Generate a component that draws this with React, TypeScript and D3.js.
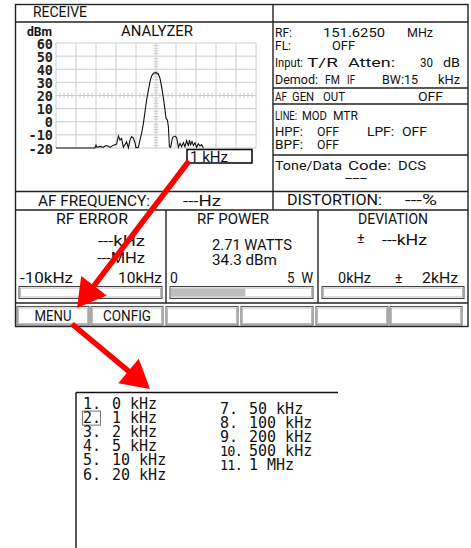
import * as d3 from "d3";
import type { ReactNode } from "react";

// spectrum trace (offset from centre in kHz, level in dBm)
const traceKHz = [-5, -3.05, -3.0, -2.95, -2.8, -2.65, -2.5, -2.4, -2.3, -2.15, -1.97, -1.88, -1.8, -1.72, -1.63, -1.47, -1.38, -1.3, -1.22, -1.13, -1.05, -1.0, -0.88, -0.8, -0.72, -0.63, -0.55, -0.47, -0.38, -0.3, -0.22, -0.13, 0, 0.12, 0.2, 0.28, 0.37, 0.45, 0.5, 0.57, 0.62, 0.67, 0.73, 0.83, 0.95, 1.03, 1.12, 1.2, 1.28, 1.37, 1.45, 1.53, 1.62, 1.67, 1.73, 1.8, 1.87, 1.95, 2.03, 2.12, 2.2, 2.28, 2.37];
const traceDbm = [-20, -20, -17.7, -19.5, -18.8, -19.5, -18.2, -18.5, -19.5, -18, -17, -10.9, -13.9, -12.8, -19.5, -15.4, -19.8, -14, -11.4, -12.5, -16, -19.8, -19.4, -13.9, -8.8, -1.2, 7.7, 16.6, 24.2, 30.5, 34.9, 36.9, 37.4, 36.4, 33.1, 26.7, 17.9, 9, 2.6, 1.3, -3.8, -19, -19.5, -11.9, -10.9, -12, -19.5, -16.4, -19, -16, -19, -14.4, -18.5, -14, -17.5, -15, -18, -16, -19.5, -16.8, -18.5, -17.5, -20];

const dbmTicks = [60, 50, 40, 30, 20, 10, 0, -10, -20];
const kHzGrid = [-5, -4, -3, -2, -1, 0, 1, 2, 3, 4, 5];

const spanOptions = ["0 kHz", "1 kHz", "2 kHz", "5 kHz", "10 kHz", "20 kHz", "50 kHz", "100 kHz", "200 kHz", "500 kHz", "1 MHz"];
const selectedSpan = 1;

const rfPowerWatts = 2.71;
const rfPowerDbm = 34.3;
const rfPowerMax = 5;
const softKeys = ["MENU", "CONFIG", "", "", "", ""];

const FONT = "Roboto, 'DejaVu Sans', sans-serif";
const MONO = "'DejaVu Sans Mono', monospace";

// text squeezed/stretched to the width it has on the instrument screen
function T({ x, y, w, size = 13, anchor, children }: { x: number; y: number; w?: number; size?: number; anchor?: "start" | "middle" | "end"; children: ReactNode }) {
  return (
    <text
      x={x}
      y={y}
      fontFamily={FONT}
      fontSize={size}
      fill="#111"
      textAnchor={anchor}
      textLength={w}
      lengthAdjust={w ? "spacingAndGlyphs" : undefined}
      style={{ whiteSpace: "pre" }}
    >
      {children}
    </text>
  );
}

function Arrow({ x1, y1, x2, y2 }: { x1: number; y1: number; x2: number; y2: number }) {
  const dx = x2 - x1, dy = y2 - y1;
  const len = Math.hypot(dx, dy);
  const ux = dx / len, uy = dy / len;
  const headLen = 28, half = 16;
  const bx = x2 - ux * headLen, by = y2 - uy * headLen;
  const pts = [
    [x2, y2],
    [bx - uy * half, by + ux * half],
    [bx + uy * half, by - ux * half],
  ];
  return (
    <g>
      <line x1={x1} y1={y1} x2={bx + ux * 2} y2={by + uy * 2} stroke="#ff0000" strokeWidth={5.5} />
      <polygon points={pts.map((p) => p.join(",")).join(" ")} fill="#ff0000" />
    </g>
  );
}

function Bar({ x, w, fill }: { x: number; w: number; fill?: number }) {
  return (
    <g>
      <rect x={x} y={286.5} width={w} height={12} fill="#fff" stroke="#444" strokeWidth={1} />
      <rect x={x + 1.5} y={288} width={w - 3} height={9} fill="none" stroke="#bbb" strokeWidth={1} />
      {fill != null && <rect x={x + 2} y={288.5} width={fill} height={8} fill="#bdbdbd" />}
    </g>
  );
}

export default function App() {
  const x = d3.scaleLinear().domain([-5, 5]).range([56, 256]);
  const y = d3.scaleLinear().domain([-20, 60]).range([148, 43]);
  const line = d3
    .line<number>()
    .x((_, i) => x(traceKHz[i]))
    .y((d) => y(d));

  const power = d3.scaleLinear().domain([0, rfPowerMax]).range([0, 139]);

  const minorKHz = d3.range(-5, 5.001, 0.2).filter((v) => Math.abs(v - Math.round(v)) > 0.01);
  const minorDb = d3.range(-20, 60.001, 2).filter((v) => v % 10 !== 0);

  const keyX = [17, 91, 166, 241, 316, 390];
  const keyW = [37, 48];

  return (
    <svg width={471} height={548} style={{ position: "absolute", left: 0, top: 0, background: "#fff" }}>
      {/* analyzer grid */}
      <g stroke="#cccccc" strokeWidth={1}>
        {kHzGrid.map((k) => (
          <line key={"v" + k} x1={x(k)} x2={x(k)} y1={y(60)} y2={y(-20)} />
        ))}
        {dbmTicks.map((d) => (
          <line key={"h" + d} x1={x(-5)} x2={x(5)} y1={y(d)} y2={y(d)} />
        ))}
        {minorKHz.map((k) => (
          <line key={"mk" + k} x1={x(k)} x2={x(k)} y1={y(20) - 2.5} y2={y(20) + 2.5} />
        ))}
        {minorDb.map((d) => (
          <line key={"md" + d} x1={x(0) - 2.5} x2={x(0) + 2.5} y1={y(d)} y2={y(d)} />
        ))}
      </g>
      <path d={line(traceDbm) ?? ""} fill="none" stroke="#111" strokeWidth={1.1} />

      {dbmTicks.map((d) => (
        <text key={d} x={53} y={y(d) + 5.5} textAnchor="end" fontFamily={MONO} fontSize={13.5} fontWeight="bold" fill="#222">
          {d}
        </text>
      ))}
      <text x={27} y={36} fontFamily={FONT} fontSize={13} fontWeight="bold" fill="#111" textLength={25} lengthAdjust="spacingAndGlyphs">dBm</text>
      <T x={121} y={36} w={72} size={15}>ANALYZER</T>

      {/* span readout box */}
      <rect x={187} y={149.5} width={65} height={13.5} fill="#fff" stroke="#111" strokeWidth={1.6} />
      <T x={190} y={162} w={38} size={15}>{spanOptions[selectedSpan]}</T>

      {/* frame lines */}
      <g stroke="#222" strokeWidth={1.4} fill="none">
        <rect x={15.5} y={4.5} width={452.5} height={322} />
        <line x1={15.5} x2={468} y1={22} y2={22} />
        <line x1={273} x2={273} y1={4.5} y2={210} />
        <line x1={273} x2={468} y1={88} y2={88} />
        <line x1={273} x2={468} y1={104} y2={104} />
        <line x1={273} x2={468} y1={155} y2={155} />
        <line x1={15.5} x2={468} y1={191.5} y2={191.5} />
        <line x1={15.5} x2={468} y1={210} y2={210} />
        <line x1={166} x2={166} y1={210} y2={303} />
        <line x1={318} x2={318} y1={210} y2={303} />
        <line x1={15.5} x2={468} y1={303} y2={303} />
      </g>

      <T x={33} y={17} w={54} size={14}>RECEIVE</T>

      {/* settings */}
      <T x={275} y={37} w={17}>RF:</T>
      <T x={323} y={37} w={62}>151.6250</T>
      <T x={407} y={37} w={26}>MHz</T>
      <T x={275} y={50} w={16}>FL:</T>
      <T x={332} y={50} w={23}>OFF</T>
      <T x={275} y={67} w={28}>Input:</T>
      <T x={307} y={67} w={31}>T/R</T>
      <T x={348} y={67} w={47}>Atten:</T>
      <T x={420} y={67} w={13}>30</T>
      <T x={443} y={67} w={17}>dB</T>
      <T x={275} y={84} w={43}>Demod:</T>
      <T x={325} y={84} w={15}>FM</T>
      <T x={347} y={84} w={8}>IF</T>
      <T x={382} y={84} w={36}>BW:15</T>
      <T x={438} y={84} w={22}>kHz</T>
      <T x={275} y={101} w={12}>AF</T>
      <T x={292} y={101} w={22}>GEN</T>
      <T x={323} y={101} w={22}>OUT</T>
      <T x={418} y={101} w={25}>OFF</T>
      <T x={275} y={120} w={22}>LINE:</T>
      <T x={302} y={120} w={25}>MOD</T>
      <T x={333} y={120} w={25}>MTR</T>
      <T x={275} y={136} w={28}>HPF:</T>
      <T x={317} y={136} w={22}>OFF</T>
      <T x={367} y={136} w={27}>LPF:</T>
      <T x={402} y={136} w={25}>OFF</T>
      <T x={275} y={149} w={28}>BPF:</T>
      <T x={317} y={149} w={22}>OFF</T>
      <T x={275} y={170} w={67}>Tone/Data</T>
      <T x={348} y={170} w={43}>Code:</T>
      <T x={398} y={170} w={28}>DCS</T>
      <T x={345} y={182} w={22}>---</T>

      <T x={38} y={206} w={112} size={14}>AF FREQUENCY:</T>
      <T x={183} y={206} w={38} size={14}>---Hz</T>
      <T x={287} y={205} w={95} size={14}>DISTORTION:</T>
      <T x={405} y={205} w={32} size={14}>---%</T>

      <T x={56} y={224} w={72} size={14}>RF ERROR</T>
      <T x={98} y={246} w={47} size={14}>---kHz</T>
      <T x={97} y={263} w={48} size={14}>---MHz</T>
      <T x={20} y={283} w={53} size={14}>-10kHz</T>
      <T x={118} y={283} w={44} size={14}>10kHz</T>

      <T x={197} y={224} w={72} size={14}>RF POWER</T>
      <T x={212} y={250} w={80} size={14}>{rfPowerWatts.toFixed(2) + " WATTS"}</T>
      <T x={212} y={265} w={65} size={14}>{rfPowerDbm.toFixed(1) + " dBm"}</T>
      <T x={170} y={283} size={14}>0</T>
      <T x={287} y={283} w={26} size={14}>{rfPowerMax + "  W"}</T>

      <T x={358} y={224} w={70} size={14}>DEVIATION</T>
      <T x={357} y={243} size={14}>±</T>
      <T x={382} y={245} w={45} size={14}>---kHz</T>
      <T x={338} y={283} w={33} size={14}>0kHz</T>
      <T x={395} y={283} size={14}>±</T>
      <T x={422} y={283} w={36} size={14}>2kHz</T>

      <Bar x={19} w={143} />
      <Bar x={170} w={143} fill={power(rfPowerWatts) - 2} />
      <Bar x={322} w={142} />

      {softKeys.map((k, i) => (
        <g key={i}>
          <rect x={keyX[i]} y={306.5} width={72} height={18.5} fill="#fff" stroke="#555" strokeWidth={1} />
          <rect x={keyX[i] + 1.5} y={308} width={69} height={15.5} fill="none" stroke="#bbb" strokeWidth={1} />
          {k && (
            <T x={keyX[i] + 36} y={321} w={keyW[i]} size={14} anchor="middle">{k}</T>
          )}
        </g>
      ))}

      {/* span menu */}
      <g stroke="#111" strokeWidth={1.4}>
        <line x1={76} x2={338} y1={392.5} y2={392.5} />
        <line x1={76} x2={76} y1={392.5} y2={548} />
      </g>
      {spanOptions.map((s, i) => {
        const col = i < 6 ? 0 : 1;
        const row = col ? i - 6 : i;
        const bx = col ? 220 : 83;
        const by = (col ? 414 : 409) + row * 14.1;
        return (
          <g key={s} fontFamily={MONO} fontSize={15} fill="#111">
            {i === selectedSpan && (
              <rect x={bx - 0.5} y={by - 12} width={18} height={14} fill="none" stroke="#777" strokeWidth={1} />
            )}
            <text x={bx} y={by} fontSize={i >= 9 ? 13.5 : 15} letterSpacing={i >= 9 ? -0.8 : 0}>{i + 1}.</text>
            <text x={bx + 29} y={by}>{s}</text>
          </g>
        );
      })}

      <Arrow x1={189} y1={161} x2={77} y2={308} />
      <Arrow x1={72} y1={324} x2={150} y2={389} />
    </svg>
  );
}
